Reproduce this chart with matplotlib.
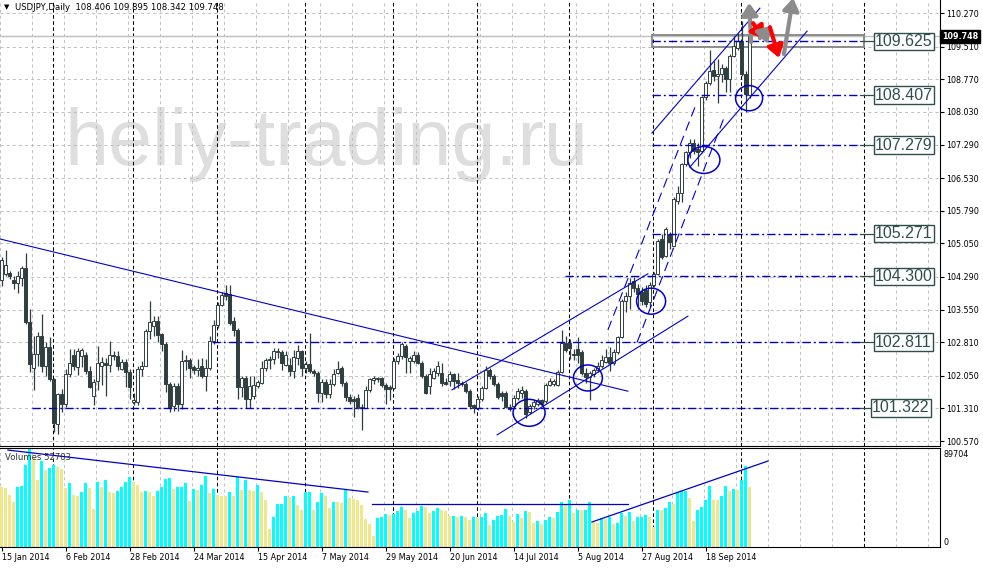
import matplotlib
matplotlib.use("Agg")
import numpy as np
import matplotlib.pyplot as plt
from matplotlib.patches import Ellipse, Rectangle

plt.rcParams["lines.scale_dashes"] = False

# ---- daily candles, one per weekday from 15 Jan 2014 ----
opens = [
    104.22, 104.35, 104.37, 104.22, 104.16, 104.27, 104.50, 103.26, 102.22, 102.54,
    102.94, 102.28, 102.71, 101.97, 100.96, 101.63, 101.41, 102.09, 102.52, 102.24,
    102.50, 102.52, 102.16, 101.60, 101.92, 102.28, 102.34, 102.29, 102.52, 102.50,
    102.20, 102.37, 102.13, 101.45, 101.46, 102.20, 102.28, 103.06, 103.18, 103.29,
    102.99, 102.77, 101.86, 101.37, 101.82, 101.41, 102.38, 102.40, 102.24, 102.19,
    102.26, 102.04, 102.22, 102.83, 103.20, 103.65, 103.92, 103.90, 103.28, 103.08,
    101.80, 102.01, 101.52, 101.60, 101.82, 101.89, 102.23, 102.40, 102.42, 102.58,
    102.58, 102.30, 102.30, 102.15, 102.46, 102.62, 102.22, 102.32, 102.16, 102.12,
    101.67, 101.90, 101.63, 101.86, 102.12, 102.23, 101.88, 101.56, 101.53, 101.54,
    101.31, 101.33, 101.73, 101.95, 101.97, 101.99, 101.84, 101.80, 101.78, 102.38,
    102.49, 102.72, 102.38, 102.38, 102.51, 102.34, 102.04, 101.82, 102.01, 102.12,
    102.12, 101.90, 101.93, 102.08, 101.96, 101.89, 101.86, 101.71, 101.38, 101.31,
    101.52, 101.77, 102.19, 102.04, 101.86, 101.66, 101.66, 101.34, 101.36, 101.55,
    101.66, 101.70, 101.22, 101.37, 101.40, 101.49, 101.47, 101.85, 101.86, 101.85,
    102.14, 102.80, 102.80, 102.55, 102.65, 102.59, 102.11, 102.03, 102.08, 102.18,
    102.26, 102.37, 102.48, 102.33, 102.58, 102.93, 103.75, 103.86, 104.20, 104.04,
    103.95, 104.00, 103.72, 104.10, 104.36, 105.15, 104.77, 105.26, 105.00, 106.02,
    106.20, 106.84, 107.11, 107.33, 107.18, 107.14, 108.37, 108.69, 108.99, 108.84,
    108.88, 109.03, 108.77, 109.29, 109.48, 109.63, 108.88, 108.406,
]
highs = [
    104.73, 104.91, 104.43, 104.31, 104.43, 104.53, 104.84, 103.56, 102.95, 103.04,
    103.44, 102.81, 102.92, 102.00, 101.67, 101.75, 102.20, 102.65, 102.65, 102.69,
    102.69, 102.58, 102.28, 101.98, 102.73, 102.47, 102.45, 102.84, 102.60, 102.60,
    102.43, 102.43, 102.20, 101.66, 102.28, 102.39, 103.10, 103.74, 103.40, 103.41,
    103.03, 102.81, 101.90, 101.89, 101.89, 102.64, 102.53, 102.46, 102.30, 102.42,
    102.46, 102.42, 102.94, 103.32, 103.73, 103.95, 104.10, 104.10, 103.39, 103.13,
    102.04, 102.04, 102.04, 102.04, 101.95, 102.38, 102.46, 102.50, 102.68, 102.68,
    102.64, 102.60, 102.45, 102.64, 102.75, 102.64, 102.38, 103.02, 102.20, 102.16,
    101.97, 101.97, 101.97, 102.20, 102.38, 102.27, 101.93, 101.63, 101.59, 101.63,
    101.40, 101.82, 102.01, 102.05, 102.03, 102.03, 101.88, 101.84, 102.46, 102.56,
    102.81, 102.76, 102.49, 102.61, 102.58, 102.38, 102.08, 102.23, 102.23, 102.38,
    102.35, 102.01, 102.16, 102.12, 102.12, 101.93, 101.90, 101.74, 101.40, 101.60,
    101.82, 102.27, 102.23, 102.08, 101.90, 101.70, 101.70, 101.40, 101.62, 101.77,
    101.81, 101.74, 101.40, 101.51, 101.55, 101.53, 101.89, 102.00, 101.98, 102.18,
    103.08, 102.96, 102.89, 102.66, 102.92, 102.63, 102.22, 102.15, 102.22, 102.37,
    102.52, 102.66, 102.70, 102.66, 102.96, 103.79, 103.94, 104.27, 104.28, 104.12,
    104.05, 104.10, 104.17, 104.40, 105.15, 105.26, 105.41, 105.30, 106.09, 106.35,
    106.88, 107.15, 107.41, 107.41, 107.33, 108.39, 108.73, 109.44, 109.18, 109.22,
    109.11, 109.07, 109.33, 109.74, 109.82, 110.08, 108.96, 109.895,
]
lows = [
    104.08, 104.30, 104.25, 104.01, 103.93, 104.09, 103.23, 102.13, 101.72, 102.28,
    102.13, 102.05, 101.94, 100.77, 100.74, 101.22, 101.34, 102.02, 102.17, 102.06,
    102.24, 102.09, 101.77, 101.38, 101.72, 101.83, 101.60, 102.13, 102.41, 102.17,
    102.17, 101.79, 101.53, 101.39, 101.38, 102.05, 102.26, 102.88, 102.96, 102.81,
    102.62, 101.68, 101.22, 101.26, 101.26, 101.30, 102.19, 102.01, 102.08, 102.05,
    102.01, 101.71, 102.19, 102.76, 103.13, 103.62, 103.77, 103.20, 102.94, 101.52,
    101.56, 101.33, 101.33, 101.52, 101.78, 101.86, 102.16, 102.20, 102.31, 102.46,
    102.19, 102.27, 102.04, 101.99, 102.30, 102.04, 102.12, 102.12, 102.05, 101.45,
    101.45, 101.55, 101.55, 101.82, 102.08, 101.82, 101.48, 101.40, 101.11, 101.29,
    100.81, 101.31, 101.69, 101.87, 101.90, 101.79, 101.40, 101.50, 101.74, 102.31,
    102.43, 102.12, 102.12, 102.34, 102.31, 102.00, 101.63, 101.63, 101.97, 102.04,
    101.82, 101.84, 101.82, 101.74, 101.78, 101.82, 101.67, 101.33, 101.21, 101.27,
    101.48, 101.74, 101.97, 101.82, 101.52, 101.47, 101.31, 101.25, 101.34, 101.51,
    101.55, 101.10, 101.18, 101.29, 101.36, 101.38, 101.43, 101.81, 101.81, 101.81,
    102.11, 102.59, 102.44, 102.40, 102.33, 102.07, 101.88, 101.51, 102.03, 102.13,
    102.22, 102.33, 102.15, 102.29, 102.55, 102.91, 103.50, 103.56, 103.95, 103.56,
    103.65, 103.60, 103.60, 104.06, 104.34, 104.70, 104.74, 104.92, 104.99, 105.94,
    105.98, 106.80, 106.98, 107.07, 106.81, 107.10, 108.31, 108.65, 108.73, 108.24,
    108.70, 108.47, 108.47, 109.27, 109.44, 108.84, 108.02, 108.342,
]
closes = [
    104.67, 104.55, 104.32, 104.16, 104.31, 104.50, 103.26, 102.31, 102.54, 102.94,
    102.28, 102.71, 101.97, 100.98, 101.63, 101.41, 102.09, 102.35, 102.28, 102.61,
    102.63, 102.16, 101.79, 101.90, 102.35, 102.37, 102.29, 102.52, 102.50, 102.26,
    102.37, 102.13, 101.79, 101.50, 102.20, 102.28, 103.06, 103.26, 103.29, 102.97,
    102.77, 101.86, 101.33, 101.82, 101.41, 102.38, 102.40, 102.22, 102.19, 102.23,
    102.04, 102.22, 102.83, 103.20, 103.65, 103.88, 103.86, 103.24, 103.08, 101.80,
    102.01, 101.52, 101.82, 101.84, 101.90, 102.23, 102.40, 102.44, 102.61, 102.62,
    102.34, 102.53, 102.15, 102.48, 102.60, 102.22, 102.31, 102.16, 102.12, 101.67,
    101.90, 101.63, 101.86, 102.10, 102.21, 101.88, 101.56, 101.48, 101.48, 101.31,
    101.35, 101.73, 101.97, 101.99, 102.00, 101.84, 101.76, 101.74, 102.38, 102.49,
    102.76, 102.48, 102.46, 102.53, 102.34, 102.04, 101.67, 102.08, 102.16, 102.27,
    101.88, 101.86, 102.08, 101.93, 101.89, 101.86, 101.71, 101.37, 101.31, 101.52,
    101.77, 102.19, 102.04, 101.86, 101.56, 101.59, 101.34, 101.29, 101.55, 101.71,
    101.73, 101.18, 101.37, 101.45, 101.51, 101.42, 101.85, 101.92, 101.92, 102.14,
    102.80, 102.63, 102.67, 102.51, 102.52, 102.11, 102.03, 102.11, 102.18, 102.26,
    102.41, 102.48, 102.33, 102.58, 102.93, 103.75, 103.86, 104.16, 104.04, 103.90,
    103.75, 103.68, 104.10, 104.36, 105.11, 104.74, 105.38, 105.07, 106.05, 106.20,
    106.84, 107.11, 107.33, 107.15, 107.11, 108.37, 108.69, 108.95, 108.84, 108.88,
    109.03, 108.77, 109.29, 109.52, 109.63, 108.88, 108.43, 109.748,
]
# tick volume, thousands
volume_k = [
    53, 52, 45, 39, 53, 54, 74, 89.704, 80.7, 60,
    78, 69, 71, 74, 72.6, 70, 52, 57, 45, 44.7,
    48.5, 56.6, 52.4, 31.8, 58, 53, 60, 48.5, 47, 49,
    53, 58, 63, 58, 55, 48.5, 49, 48.4, 44, 49.5,
    53, 60.8, 61.4, 50.8, 52.7, 53.4, 56.6, 39.5, 51, 50.5,
    55, 64, 47, 51, 45, 44.6, 44.5, 48, 44, 63,
    50, 60, 50, 49.5, 55, 48.5, 41, 12.2, 24.4, 36.6,
    37, 44, 43.7, 44.5, 35.7, 30.9, 48, 48.3, 30.9, 39,
    47, 44.4, 32.5, 39, 38.6, 38, 50, 42, 41.8, 40.5,
    35.4, 21.9, 17.4, 5.8, 22.8, 23.8, 27, 26, 27.1, 30.2,
    33.4, 30.9, 22.8, 27.6, 30.2, 34.7, 34, 28.3, 30.2, 32.5,
    30.9, 30.2, 25, 25.1, 23.8, 25, 24.4, 21.2, 24.4, 23.8,
    24.4, 27.6, 16, 21, 25, 26, 32, 25, 19.6, 27,
    23.5, 30, 29, 18.6, 20, 17, 21, 24, 23, 29,
    38.6, 35.7, 41, 28, 31, 30.8, 31.2, 38.6, 19.6, 18,
    23, 22, 24.4, 17, 18, 27.6, 25, 29, 20, 24.4,
    24.5, 25.7, 23.8, 14.8, 31, 30.8, 33, 38.6, 37, 48,
    49.5, 49.6, 42, 20.6, 31, 33.4, 41, 54, 41, 40.8,
    44, 54, 49, 50.8, 50, 60, 73, 52.703,
]

date_labels = ["15 Jan 2014", "6 Feb 2014", "28 Feb 2014", "24 Mar 2014",
               "15 Apr 2014", "7 May 2014", "29 May 2014", "20 Jun 2014",
               "14 Jul 2014", "5 Aug 2014", "27 Aug 2014", "18 Sep 2014"]
date_label_bars = list(range(0, 177, 16))
month_start_bars = [13, 33, 54, 76, 98, 119, 142, 163, 185, 215.6]
price_ticks = [100.57, 101.31, 102.05, 102.81, 103.55, 104.29, 105.05,
               105.79, 106.53, 107.29, 108.03, 108.77, 109.51, 110.27]

# horizontal levels: price, first bar of the line, bar of the label box
levels = [109.625, 108.407, 107.279, 105.271, 104.300, 102.811, 101.322]
level_start = [162.6, 162.6, 162.6, 162.6, 140.9, 52.6, 7.6]
level_label = [218.4, 218.4, 218.4, 218.4, 218.4, 218.4, 217.6]

# trend lines (bar, price) -> (bar, price)
trend_solid = [((-0.4, 105.15), (156.6, 101.70)),
               ((123.9, 100.71), (171.6, 103.40)),
               ((112.6, 101.73), (161.6, 104.36)),
               ((162.6, 107.55), (189.6, 110.38)),
               ((172.1, 106.78), (201.4, 109.86))]
trend_dashed = [((151.6, 103.09), (173.6, 108.19)),
                ((158.9, 102.81), (180.9, 107.96))]
# circled touches: bar, price, width in bars, height in price
circles = [(131.9, 101.21, 8.0, 0.61), (146.6, 102.00, 7.25, 0.59),
           (162.4, 103.74, 7.25, 0.59), (175.6, 106.94, 8.0, 0.61),
           (186.9, 108.34, 6.75, 0.57)]
# forecast arrows: start, end, colour
arrows = [((187.4, 109.61), (186.9, 110.50), "#8c8c8c"),
          ((187.9, 110.04), (190.6, 109.68), "red"),
          ((189.6, 109.70), (192.4, 109.98), "#8c8c8c"),
          ((192.1, 109.95), (194.4, 109.25), "red"),
          ((195.6, 109.34), (197.9, 110.61), "#8c8c8c")]
# volume trend lines (bar, thousands)
vol_lines = [((1.6, 88.7), (91.6, 48.2)),
             ((92.6, 36.7), (156.6, 36.7)),
             ((147.6, 19.3), (191.6, 78.1))]

BAR = "#2f3f3f"
LINE_BLUE = "#0000cd"
BOX = "#2f4f4f"

fig = plt.figure(figsize=(9.83, 5.68), dpi=100)
fx = lambda px: px / 983
fy = lambda py: 1 - py / 568
axp = fig.add_axes([0, fy(446), fx(940), 446 / 568])
axv = fig.add_axes([0, fy(547), fx(940), 99 / 568])

x = np.arange(len(opens))
o = np.array(opens); h = np.array(highs); l = np.array(lows); c = np.array(closes)
xlim = (-0.375, 234.625)
axp.set_xlim(*xlim)
axp.set_ylim(100.458, 110.565)
axv.set_xlim(*xlim)
vol_floor = -4.8   # histogram runs down to the panel edge, below the zero mark
axv.set_ylim(vol_floor, 90.7)

# grid and period separators
for gx in range(0, 235, 8):
    for ax in (axp, axv):
        ax.axvline(gx - 0.3, color="#c0c0c0", lw=0.7, dashes=(2.2, 2.2), zorder=0.5)
for t in price_ticks:
    axp.axhline(t, color="#c0c0c0", lw=0.7, dashes=(2.2, 2.2), zorder=0.5)
for m in month_start_bars:
    for ax in (axp, axv):
        ax.axvline(m - 0.1, color="black", lw=0.75, dashes=(2.6, 1.8), zorder=0.6)

axp.text(65 / 940, 1 - 165 / 446, "heliy-trading.ru", transform=axp.transAxes,
         fontsize=57, family="Liberation Sans", color="#dedede",
         ha="left", va="baseline", zorder=0.3)

# bid line and zone rectangle
axp.axhline(c[-1], color="#c0c0c0", lw=1.0, zorder=1)
axp.add_patch(Rectangle((162.6, 109.50), 53.0, 0.27, fill=False,
                        ec="#8c8c8c", lw=1.4, zorder=1.2))

# candles
up = c >= o
axp.vlines(x, l, h, color=BAR, lw=0.9, zorder=2)
axp.bar(x, np.maximum(np.abs(c - o), 0.012), bottom=np.minimum(o, c), width=0.55,
        color=np.where(up, "white", BAR), edgecolor=BAR, lw=0.7, zorder=3)

# levels
for lv, xs, xl in zip(levels, level_start, level_label):
    axp.plot([xs, 214.6], [lv, lv], color=LINE_BLUE, lw=1.0,
             dashes=(6, 2.2, 1.4, 2.2), zorder=4)
    axp.plot([214.6, xl], [lv, lv], color=BOX, lw=0.9, zorder=4)
    axp.text(xl, lv, f"{lv:.3f}", ha="left", va="center", fontsize=11.5,
             family="Liberation Sans", color=BOX, zorder=6,
             bbox=dict(boxstyle="square,pad=0.08", fc="white", ec=BOX, lw=1.0))

for (x0, y0), (x1, y1) in trend_solid:
    axp.plot([x0, x1], [y0, y1], color=LINE_BLUE, lw=0.8, zorder=4)
for (x0, y0), (x1, y1) in trend_dashed:
    axp.plot([x0, x1], [y0, y1], color=LINE_BLUE, lw=0.8, dashes=(7, 4), zorder=4)
for cx, cy, w, hh in circles:
    axp.add_patch(Ellipse((cx, cy), w, hh, fill=False, ec=LINE_BLUE, lw=1.1, zorder=4))
for start, end, col in arrows:
    axp.annotate("", xy=end, xytext=start, annotation_clip=False,
                 arrowprops=dict(arrowstyle="-|>,head_length=0.6,head_width=0.4",
                                 color=col, lw=3, shrinkA=0, shrinkB=0,
                                 mutation_scale=12), zorder=5)

# price axis
axp.yaxis.tick_right()
axp.set_yticks(price_ticks)
axp.set_yticklabels([f"{t:.3f}" for t in price_ticks])
axp.tick_params(axis="y", length=3, width=0.8, pad=1.5, labelsize=5.8)
axp.tick_params(axis="x", bottom=False, labelbottom=False)
axp.text(1.002, c[-1], f"{c[-1]:.3f}", transform=axp.get_yaxis_transform(),
         ha="left", va="center", fontsize=5.8, color="white", fontweight="bold",
         clip_on=False, zorder=7,
         bbox=dict(boxstyle="square,pad=0.25", fc="black", ec="black"))
for side in ("left", "top"):
    axp.spines[side].set_visible(False)
for side in ("right", "bottom"):
    axp.spines[side].set_linewidth(0.8)

# volumes
vol = np.array(volume_k)
vol_colors = ["#f0e68c"] + ["#00ffff" if volume_k[i] > volume_k[i - 1] else "#f0e68c"
                            for i in range(1, len(volume_k))]
axv.bar(x, vol - vol_floor, bottom=vol_floor, width=0.85, color=vol_colors,
        lw=0, zorder=2)
for (x0, y0), (x1, y1) in vol_lines:
    axv.plot([x0, x1], [y0, y1], color=LINE_BLUE, lw=0.9, zorder=4)
axv.set_yticks([])
axv.set_xticks(date_label_bars)
axv.set_xticklabels(date_labels)
for lbl in axv.get_xticklabels():
    lbl.set_ha("left")
axv.tick_params(axis="x", length=3, width=0.8, pad=1.5, labelsize=5.8)
axv.spines["left"].set_visible(False)
for side in ("right", "bottom", "top"):
    axv.spines[side].set_linewidth(0.8)
axv.text(1.004, 0.93, f"{round(max(volume_k) * 1000)}", transform=axv.transAxes,
         ha="left", va="center", fontsize=5.8)
axv.text(1.004, 0.05, "0", transform=axv.transAxes, ha="left", va="center", fontsize=5.8)

# header texts
fig.text(fx(4), fy(7), "\u25bc", fontsize=5, va="center")
fig.text(fx(15), fy(7),
         f"USDJPY,Daily  {o[-1]:.3f} {h[-1]:.3f} {l[-1]:.3f} {c[-1]:.3f}",
         fontsize=6.1, va="center")
fig.text(fx(5), fy(457), f"Volumes {round(volume_k[-1] * 1000)}",
         fontsize=6.1, va="center", color="#303030")

fig.savefig("out.png", dpi=100)
